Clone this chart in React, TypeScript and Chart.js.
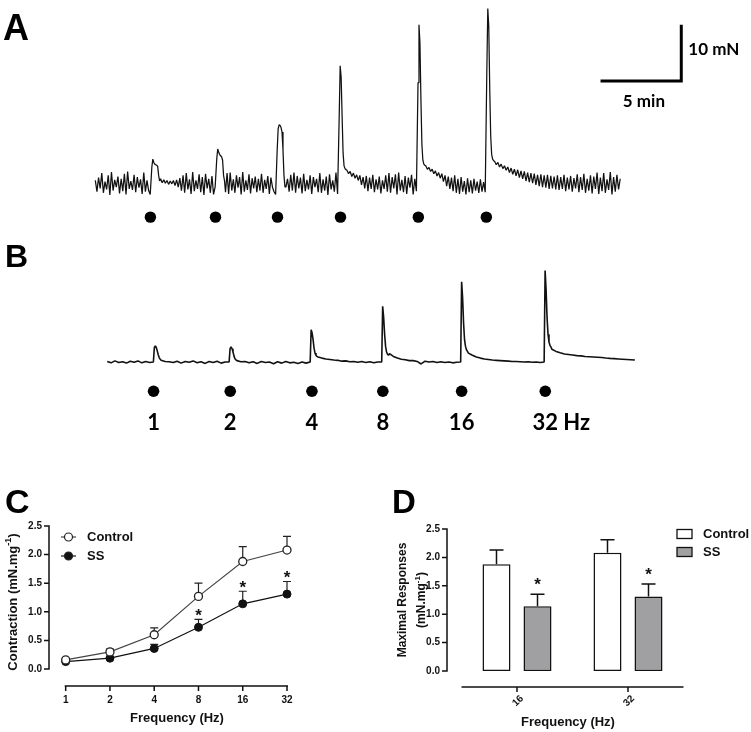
import React, { useEffect, useRef } from 'react';
import { Chart, registerables } from 'chart.js';

Chart.register(...registerables);

const FONT = '"Liberation Sans", Arial, sans-serif';
const TRACE_FONT = 'Lato, "Open Sans", sans-serif';

// ---------- Panel A: trace (time in min, force in mN) ----------
const aStimTimes = [3.5, 7.52, 11.26, 15.1, 19.98, 24.24];
const aDotTimes = [3.41, 7.44, 11.28, 15.18, 20.0, 24.21];
const aEnd = 32.5;
const aPulses: number[][] = [
  [3.0, 4.4, 3.8, 3.5, 3.4, 3.3, 3.1, 1.5, 0.5],
  [4.5, 6.2, 5.6, 5.2, 5.0, 4.8, 4.2, 1.5, 0.5],
  [6.0, 9.8, 10.5, 10.4, 10.0, 9.2, 6.0, 1.5, -0.5],
  [12.0, 21.0, 19.0, 12.0, 5.5, 3.2, 2.7, 2.5],
  [18.0, 28.3, 25.0, 15.0, 7.0, 4.2, 3.5, 3.3],
  [20.0, 31.2, 28.0, 17.0, 8.5, 5.2, 4.4, 4.1],
];
const aSeg0 = [0.6,-1.4,1.1,-0.8,1.9,-1.6,0.4,-1.0,1.5,-2.0,2.1,-1.2,0.7,-0.6,1.3,-1.7,0.9,-1.3,1.8,-1.9,2.2,-0.9,0.5,-1.1,1.6,-1.5,1.2,-0.7,0.8,-1.8,2.0,-1.4,0.6,-1.2,-1.9];
const aSeg1 = [0.9,0.2,0.7,0.1,0.6,-0.1,0.5,0.0,0.6,-0.3,0.7,-0.6,1.0,-1.2,1.5,-1.6,1.9,-1.0,0.8,-1.8,2.1,-1.3,0.6,-0.9,1.7,-1.5,1.2,-2.0,1.8,-0.8,0.9,-1.6,1.4,-1.9,-0.5];
const aSeg2 = [-1.5,1.9,-1.8,2.0,-1.2,0.8,-1.6,1.5,-0.7,1.2,-1.9,2.1,-1.4,0.6,-1.1,1.7,-1.7,1.0,-0.8,1.3,-1.5,0.9,-1.2,1.8,-1.6,0.7,-0.9,1.4,-1.8,1.1,-0.6,-1.4,-1.9];
const aSeg3 = [-0.6,0.9,-1.4,1.6,-1.2,2.0,-1.6,1.4,-0.8,1.1,-1.7,1.8,-1.3,0.7,-1.0,1.5,-1.8,1.2,-0.6,0.9,-1.5,1.9,-1.6,0.8,-1.2,1.3,-2.0,1.7,-1.0,0.6,-1.4,2.0,-1.8];
const aSeg4 = [2.4,1.8,2.2,1.3,1.9,1.0,1.6,0.6,1.5,-0.2,1.2,-0.8,1.4,-1.3,1.1,-0.9,1.6,-1.5,0.8,-1.0,1.3,-1.7,0.6,-0.9,1.5,-1.4,1.9,-1.6,1.2,-0.8,1.7,-1.9,2.0,-1.2,0.7,-1.5,1.4,-1.8,1.1,-0.7,1.6,-1.9,0.9,-1.3];
const aSeg5 = [3.2,2.6,2.9,2.2,2.6,1.8,2.3,1.4,2.0,1.0,1.8,0.4,1.5,-0.4,1.3,-0.9,1.1,-1.3,1.5,-1.6,0.9,-1.8,1.2,-1.4,0.5,-1.9,1.0,-1.5,0.6,-1.7,0.9,-1.2,0.4,-1.6,0.8,-1.4,0.3,-1.5];
const aSeg6 = [4.0,3.4,3.8,3.0,3.5,2.7,3.2,2.4,3.0,2.0,2.8,1.7,2.6,1.4,2.5,1.1,2.3,0.9,2.2,0.5,2.0,0.3,1.9,0.1,1.8,-0.2,1.6,-0.4,1.7,-0.6,1.5,-0.7,1.6,-0.9,1.4,-0.8,1.3,-1.0,1.5,-1.1,1.2,-0.9,1.6,-1.3,1.1,-1.0,1.4,-1.4,1.0,-0.8,1.7,-1.5,1.2,-1.1,1.8,-1.6,0.9,-1.2,1.5,-1.7,1.3,-0.9,2.0,-1.8,1.1,-1.3,1.9,-1.6,0.8,-1.1,2.1,-1.9,1.2,-1.4,1.6,-1.0,0.9];
const aSegments = [aSeg0, aSeg1, aSeg2, aSeg3, aSeg4, aSeg5, aSeg6];

// scale bar
const scaleBarMinutes = 5;
const scaleBarForce = 10;
const scaleBarTime = 36.28;
const scaleBarBase = 18.3;

// ---------- Panel B: trace ----------
const bStimTimes = [2.86, 7.55, 12.57, 17.0, 21.89, 27.06];
const bDotTimes = [2.87, 7.62, 12.68, 17.07, 21.95, 27.13];
const bLabels = ['1', '2', '4', '8', '16', '32'];
const bUnit = 'Hz';
const bEnd = 32.68;
const bPulses: number[][] = [
  [0.0, 2.6, 2.9, 2.6, 2.0, 1.3, 0.8, 0.5],
  [0.0, 2.4, 2.7, 2.4, 1.8, 1.1, 0.6, 0.4],
  [0.0, 5.8, 5.2, 4.0, 2.5, 1.6, 1.2, 1.0],
  [0.0, 10.0, 8.0, 5.0, 2.8, 1.8, 1.4, 1.2],
  [0.0, 14.4, 11.5, 7.0, 4.0, 2.8, 2.2, 1.9],
  [0.0, 16.4, 13.0, 8.0, 5.0, 3.6, 3.0, 2.7],
];
const bSeg0 = [0.1,-0.15,0.2,-0.1,0.05,-0.2,0.15,-0.05,0.2,-0.15,0.1,-0.1];
const bSeg1 = [0.3,0.1,0.05,-0.1,0.15,-0.2,0.1,-0.05,0.2,-0.15,0.05,-0.25,0.1,-0.1,0.15,-0.2,0.0];
const bSeg2 = [0.25,0.05,0.1,-0.15,0.05,-0.25,0.1,-0.1,0.0,-0.3,0.05,-0.2,0.1,-0.15,-0.05,-0.25,0.0,-0.2];
const bSeg3 = [0.9,0.7,0.55,0.45,0.35,0.3,0.15,0.2,0.05,0.1,-0.05,0.1,-0.1,0.05,-0.15,0.0];
const bSeg4 = [1.5,1.0,0.7,0.5,0.4,0.25,0.25,0.1,-0.35,0.15,0.0,0.1,-0.1,0.05,-0.1,0.0,-0.15,-0.05];
const bSeg5 = [1.6,1.2,0.9,0.7,0.55,0.45,0.35,0.3,0.25,0.2,0.15,0.1,0.1,0.05,0.0,0.05,-0.05,0.0,-0.1];
const bSeg6 = [2.3,1.9,1.65,1.45,1.35,1.25,1.15,1.1,1.0,0.95,0.9,0.85,0.8,0.72,0.65,0.6,0.55,0.5,0.45,0.4,0.35];
const bSegments = [bSeg0, bSeg1, bSeg2, bSeg3, bSeg4, bSeg5, bSeg6];

// ---------- Panel C ----------
const freqs = [1, 2, 4, 8, 16, 32];
const controlMean = [0.16, 0.30, 0.60, 1.27, 1.88, 2.08];
const controlSem = [0.02, 0.05, 0.12, 0.23, 0.26, 0.24];
const ssMean = [0.13, 0.19, 0.36, 0.73, 1.14, 1.31];
const ssSem = [0.02, 0.02, 0.07, 0.14, 0.22, 0.22];
const ssSignificant = [false, false, false, true, true, true];
const yTicks = [0, 0.5, 1.0, 1.5, 2.0, 2.5];

// ---------- Panel D ----------
const barFreqs = ['16', '32'];
const controlMax = [1.88, 2.08];
const controlMaxSem = [0.25, 0.23];
const ssMax = [1.14, 1.31];
const ssMaxSem = [0.21, 0.22];
const ssMaxSignificant = [true, true];

const PULSE_STEP = 0.06;

function buildTrace(stims: number[], pulses: number[][], segs: number[][], end: number) {
  const pts: { x: number; y: number }[] = [];
  segs.forEach((seg, k) => {
    const start = k === 0 ? 0 : stims[k - 1] + pulses[k - 1].length * PULSE_STEP;
    const last = k === segs.length - 1;
    const stop = k < stims.length ? stims[k] : end;
    const dt = (stop - start) / (last ? seg.length - 1 : seg.length);
    seg.forEach((v, j) => pts.push({ x: start + j * dt, y: v }));
    if (k < stims.length) pulses[k].forEach((v, m) => pts.push({ x: stims[k] + m * PULSE_STEP, y: v }));
  });
  return pts;
}

function drawTitle(ctx: CanvasRenderingContext2D, cx: number, cy: number, parts: { t: string; sup?: boolean }[], size: number, rotate: boolean) {
  ctx.save();
  const main = `bold ${size}px ${FONT}`;
  const sup = `bold ${Math.round(size * 0.68)}px ${FONT}`;
  let total = 0;
  parts.forEach((p) => { ctx.font = p.sup ? sup : main; total += ctx.measureText(p.t).width; });
  ctx.translate(cx, cy);
  if (rotate) ctx.rotate(-Math.PI / 2);
  ctx.textAlign = 'left';
  ctx.textBaseline = 'middle';
  ctx.fillStyle = '#111';
  let x = -total / 2;
  parts.forEach((p) => {
    ctx.font = p.sup ? sup : main;
    ctx.fillText(p.t, x, p.sup ? -size * 0.38 : 0);
    x += ctx.measureText(p.t).width;
  });
  ctx.restore();
}

const baseOpts = {
  responsive: false,
  animation: false as const,
  devicePixelRatio: 1,
  events: [] as any[],
  plugins: { legend: { display: false }, tooltip: { enabled: false } },
};

export default function App() {
  const aRef = useRef<HTMLCanvasElement>(null);
  const bRef = useRef<HTMLCanvasElement>(null);
  const cRef = useRef<HTMLCanvasElement>(null);
  const dRef = useRef<HTMLCanvasElement>(null);

  useEffect(() => {
    const charts: Chart[] = [];

    // ----- A -----
    const aPlugin = {
      id: 'aDecor',
      afterDraw(chart: any) {
        const { ctx } = chart;
        const x = chart.scales.x, y = chart.scales.y;
        ctx.save();
        ctx.fillStyle = '#000';
        ctx.font = `bold 36px ${FONT}`;
        ctx.textAlign = 'left';
        ctx.textBaseline = 'alphabetic';
        ctx.fillText('A', 3, 40);
        ctx.font = `bold 17px ${TRACE_FONT}`;
        ctx.textBaseline = 'middle';
        ctx.fillText(`${scaleBarForce} mN`, x.getPixelForValue(scaleBarTime) + 7, y.getPixelForValue(scaleBarBase + scaleBarForce / 2) - 3);
        ctx.textAlign = 'center';
        ctx.fillText(`${scaleBarMinutes} min`, x.getPixelForValue(scaleBarTime - scaleBarMinutes / 2) + 3, y.getPixelForValue(scaleBarBase) + 21);
        ctx.restore();
      },
    };
    charts.push(new Chart(aRef.current!, {
      type: 'line',
      data: {
        datasets: [
          { data: buildTrace(aStimTimes, aPulses, aSegments, aEnd), borderColor: '#111', borderWidth: 1.25, pointRadius: 0, tension: 0, borderJoinStyle: 'bevel' } as any,
          { data: aDotTimes.map((t) => ({ x: t, y: -5.93 })), showLine: false, pointRadius: 5.7, pointBackgroundColor: '#000', pointBorderWidth: 0 },
          { data: [
              { x: scaleBarTime - scaleBarMinutes, y: scaleBarBase },
              { x: scaleBarTime, y: scaleBarBase },
              { x: scaleBarTime, y: scaleBarBase + scaleBarForce },
            ], borderColor: '#000', borderWidth: 3, pointRadius: 0, borderJoinStyle: 'miter', borderCapStyle: 'butt' } as any,
        ],
      },
      options: {
        ...baseOpts,
        layout: { padding: 0 },
        scales: {
          x: { type: 'linear', min: -5.549, max: 40.244, display: false },
          y: { min: -8.983, max: 31.695, display: false },
        },
      } as any,
      plugins: [aPlugin],
    }));

    // ----- B -----
    const bPlugin = {
      id: 'bDecor',
      afterDraw(chart: any) {
        const { ctx } = chart;
        const x = chart.scales.x, y = chart.scales.y;
        ctx.save();
        ctx.fillStyle = '#000';
        ctx.font = `bold 32px ${FONT}`;
        ctx.textAlign = 'left';
        ctx.textBaseline = 'alphabetic';
        ctx.fillText('B', 5, 27);
        ctx.font = `bold 22px ${TRACE_FONT}`;
        ctx.textBaseline = 'middle';
        const ly = y.getPixelForValue(-10.85);
        bLabels.forEach((lab, i) => {
          const px = x.getPixelForValue(bDotTimes[i]);
          ctx.textAlign = 'center';
          ctx.fillText(lab, px, ly);
          if (i === bLabels.length - 1) {
            const w = ctx.measureText(lab).width;
            ctx.textAlign = 'left';
            ctx.fillText(' ' + bUnit, px + w / 2, ly);
          }
        });
        ctx.restore();
      },
    };
    charts.push(new Chart(bRef.current!, {
      type: 'line',
      data: {
        datasets: [
          { data: buildTrace(bStimTimes, bPulses, bSegments, bEnd), borderColor: '#111', borderWidth: 1.6, pointRadius: 0, tension: 0, borderJoinStyle: 'bevel' } as any,
          { data: bDotTimes.map((t) => ({ x: t, y: -5.25 })), showLine: false, pointRadius: 5.8, pointBackgroundColor: '#000', pointBorderWidth: 0 },
        ],
      },
      options: {
        ...baseOpts,
        layout: { padding: 0 },
        scales: {
          x: { type: 'linear', min: -6.28, max: 39.512, display: false },
          y: { min: -14.746, max: 20.847, display: false },
        },
      } as any,
      plugins: [bPlugin],
    }));

    // ----- C -----
    const cPlugin = {
      id: 'cDecor',
      beforeDatasetsDraw(chart: any) {
        const { ctx } = chart;
        const xs = chart.scales.x, ys = chart.scales.y;
        ctx.save();
        ctx.strokeStyle = '#222';
        ctx.lineWidth = 1.2;
        [[controlMean, controlSem], [ssMean, ssSem]].forEach(([m, s]) => {
          freqs.forEach((f, i) => {
            const px = xs.getPixelForValue(f);
            const y1 = ys.getPixelForValue(m[i]);
            const y2 = ys.getPixelForValue(m[i] + s[i]);
            ctx.beginPath();
            ctx.moveTo(px, y1); ctx.lineTo(px, y2);
            ctx.moveTo(px - 4, y2); ctx.lineTo(px + 4, y2);
            ctx.stroke();
          });
        });
        ctx.restore();
      },
      afterDraw(chart: any) {
        const { ctx, chartArea } = chart;
        const xs = chart.scales.x, ys = chart.scales.y;
        ctx.save();
        ctx.fillStyle = '#000';
        ctx.font = `bold 34px ${FONT}`;
        ctx.textAlign = 'left';
        ctx.textBaseline = 'alphabetic';
        ctx.fillText('C', 5, 33);
        ctx.strokeStyle = '#111';
        ctx.lineWidth = 1.5;
        const ax = chartArea.left;
        ctx.beginPath();
        ctx.moveTo(ax, ys.getPixelForValue(0) + 0.75);
        ctx.lineTo(ax, ys.getPixelForValue(2.5) - 0.75);
        yTicks.forEach((v) => { const py = ys.getPixelForValue(v); ctx.moveTo(ax - 5, py); ctx.lineTo(ax, py); });
        const ay = chartArea.bottom;
        ctx.moveTo(xs.getPixelForValue(freqs[0]) - 1, ay);
        ctx.lineTo(xs.getPixelForValue(freqs[freqs.length - 1]) + 1, ay);
        freqs.forEach((f) => { const px = xs.getPixelForValue(f); ctx.moveTo(px, ay); ctx.lineTo(px, ay + 5); });
        ctx.stroke();
        ctx.fillStyle = '#111';
        ctx.font = `bold 10px ${FONT}`;
        ctx.textAlign = 'right';
        ctx.textBaseline = 'middle';
        yTicks.forEach((v) => ctx.fillText(v.toFixed(1), ax - 7, ys.getPixelForValue(v)));
        ctx.textAlign = 'center';
        ctx.textBaseline = 'top';
        freqs.forEach((f) => ctx.fillText(String(f), xs.getPixelForValue(f), ay + 9));
        drawTitle(ctx, 177, 238, [{ t: 'Frequency (Hz)' }], 13, false);
        drawTitle(ctx, 13, 122, [{ t: 'Contraction (mN.mg' }, { t: '-1', sup: true }, { t: ')' }], 13, true);
        ctx.fillStyle = '#111';
        ctx.font = `bold 17px ${FONT}`;
        ctx.textAlign = 'center';
        ctx.textBaseline = 'alphabetic';
        freqs.forEach((f, i) => {
          if (!ssSignificant[i]) return;
          const cy = ys.getPixelForValue(ssMean[i] + ssSem[i]) - 8;
          ctx.fillText('*', xs.getPixelForValue(f), cy + 9.5);
        });
        const items = [
          { label: 'Control', fill: '#fff', line: '#444', y: 57 },
          { label: 'SS', fill: '#111', line: '#111', y: 76 },
        ];
        items.forEach((it) => {
          ctx.strokeStyle = it.line;
          ctx.lineWidth = 1.2;
          ctx.beginPath(); ctx.moveTo(61, it.y); ctx.lineTo(76, it.y); ctx.stroke();
          ctx.beginPath(); ctx.arc(68.5, it.y, 4, 0, Math.PI * 2);
          ctx.fillStyle = it.fill; ctx.fill();
          ctx.strokeStyle = '#222'; ctx.stroke();
          ctx.fillStyle = '#111';
          ctx.font = `bold 13px ${FONT}`;
          ctx.textAlign = 'left';
          ctx.textBaseline = 'middle';
          ctx.fillText(it.label, 87, it.y);
        });
        ctx.restore();
      },
    };
    charts.push(new Chart(cRef.current!, {
      type: 'line',
      data: {
        datasets: [
          { label: 'Control', data: freqs.map((f, i) => ({ x: f, y: controlMean[i] })), borderColor: '#444', borderWidth: 1.2, pointRadius: 4, pointBackgroundColor: '#fff', pointBorderColor: '#222', pointBorderWidth: 1.3, clip: false, tension: 0 } as any,
          { label: 'SS', data: freqs.map((f, i) => ({ x: f, y: ssMean[i] })), borderColor: '#111', borderWidth: 1.2, pointRadius: 4, pointBackgroundColor: '#111', pointBorderColor: '#111', pointBorderWidth: 1, clip: false, tension: 0 } as any,
        ],
      },
      options: {
        ...baseOpts,
        layout: { padding: { left: 49, right: 73, top: 46, bottom: 46 } },
        scales: {
          x: { type: 'logarithmic', min: 0.77, max: 32, display: false },
          y: { type: 'linear', min: -0.296, max: 2.5, display: false },
        },
      } as any,
      plugins: [cPlugin],
    }));

    // ----- D -----
    const dPlugin = {
      id: 'dDecor',
      afterDatasetsDraw(chart: any) {
        const { ctx } = chart;
        const ys = chart.scales.y;
        ctx.save();
        ctx.strokeStyle = '#111';
        ctx.lineWidth = 1.5;
        const series = [[controlMax, controlMaxSem], [ssMax, ssMaxSem]];
        series.forEach(([m, s], d) => {
          const meta = chart.getDatasetMeta(d);
          m.forEach((v, i) => {
            const px = meta.data[i].x;
            const y1 = ys.getPixelForValue(v);
            const y2 = ys.getPixelForValue(v + s[i]);
            ctx.beginPath();
            ctx.moveTo(px, y1); ctx.lineTo(px, y2);
            ctx.moveTo(px - 7, y2); ctx.lineTo(px + 7, y2);
            ctx.stroke();
          });
        });
        ctx.fillStyle = '#111';
        ctx.font = `bold 17px ${FONT}`;
        ctx.textAlign = 'center';
        ctx.textBaseline = 'alphabetic';
        const ssMeta = chart.getDatasetMeta(1);
        ssMax.forEach((v, i) => {
          if (!ssMaxSignificant[i]) return;
          const cy = ys.getPixelForValue(v + ssMaxSem[i]) - 14;
          ctx.fillText('*', ssMeta.data[i].x, cy + 9.5);
        });
        ctx.restore();
      },
      afterDraw(chart: any) {
        const { ctx, chartArea } = chart;
        const xs = chart.scales.x, ys = chart.scales.y;
        ctx.save();
        ctx.fillStyle = '#000';
        ctx.font = `bold 33px ${FONT}`;
        ctx.textAlign = 'left';
        ctx.textBaseline = 'alphabetic';
        ctx.fillText('D', 22, 33);
        ctx.strokeStyle = '#111';
        ctx.lineWidth = 1.5;
        const ax = chartArea.left - 14.5;
        ctx.beginPath();
        ctx.moveTo(ax, ys.getPixelForValue(0) + 0.75);
        ctx.lineTo(ax, ys.getPixelForValue(2.5) - 0.75);
        yTicks.forEach((v) => { const py = ys.getPixelForValue(v); ctx.moveTo(ax - 5, py); ctx.lineTo(ax, py); });
        const ay = chartArea.bottom;
        ctx.moveTo(chartArea.left, ay);
        ctx.lineTo(chartArea.right, ay);
        barFreqs.forEach((_, i) => { const px = xs.getPixelForValue(i); ctx.moveTo(px, ay); ctx.lineTo(px, ay + 5); });
        ctx.stroke();
        ctx.fillStyle = '#111';
        ctx.font = `bold 10px ${FONT}`;
        ctx.textAlign = 'right';
        ctx.textBaseline = 'middle';
        yTicks.forEach((v) => ctx.fillText(v.toFixed(1), ax - 7, ys.getPixelForValue(v)));
        barFreqs.forEach((lab, i) => {
          const px = xs.getPixelForValue(i);
          ctx.save();
          ctx.translate(px + 5, ay + 10);
          ctx.rotate(-Math.PI / 4);
          ctx.textAlign = 'right';
          ctx.textBaseline = 'middle';
          ctx.fillText(lab, 0, 0);
          ctx.restore();
        });
        drawTitle(ctx, 198, 242, [{ t: 'Frequency (Hz)' }], 13, false);
        drawTitle(ctx, 33, 120, [{ t: 'Maximal Responses' }], 12, true);
        drawTitle(ctx, 52, 120, [{ t: '(mN.mg' }, { t: '-1', sup: true }, { t: ')' }], 12, true);
        const ds = chart.data.datasets;
        ds.forEach((d: any, i: number) => {
          const cy = 54 + i * 18;
          ctx.fillStyle = d.backgroundColor;
          ctx.fillRect(307, cy - 4.5, 15, 9);
          ctx.strokeStyle = '#111';
          ctx.lineWidth = 1.3;
          ctx.strokeRect(307, cy - 4.5, 15, 9);
          ctx.fillStyle = '#111';
          ctx.font = `bold 13px ${FONT}`;
          ctx.textAlign = 'left';
          ctx.textBaseline = 'middle';
          ctx.fillText(d.label, 333, cy);
        });
        ctx.restore();
      },
    };
    charts.push(new Chart(dRef.current!, {
      type: 'bar',
      data: {
        labels: barFreqs,
        datasets: [
          { label: 'Control', data: controlMax, backgroundColor: '#ffffff', borderColor: '#111', borderWidth: 1.5, borderSkipped: false, categoryPercentage: 0.739, barPercentage: 0.683 } as any,
          { label: 'SS', data: ssMax, backgroundColor: '#a0a0a2', borderColor: '#111', borderWidth: 1.5, borderSkipped: false, categoryPercentage: 0.739, barPercentage: 0.683 } as any,
        ],
      },
      options: {
        ...baseOpts,
        layout: { padding: { left: 91.5, right: 67.5, top: 49, bottom: 45 } },
        scales: {
          x: { display: false },
          y: { min: -0.282, max: 2.5, display: false },
        },
      } as any,
      plugins: [dPlugin],
    }));

    return () => charts.forEach((c) => c.destroy());
  }, []);

  const abs = (l: number, t: number, w: number, h: number): React.CSSProperties => ({ position: 'absolute', left: l, top: t, width: w, height: h });

  return (
    <div style={{ position: 'absolute', left: 0, top: 0, width: 751, height: 732, background: '#fff', overflow: 'hidden' }}>
      <canvas ref={aRef} width={751} height={240} style={abs(0, 0, 751, 240)} />
      <canvas ref={bRef} width={751} height={210} style={abs(0, 240, 751, 210)} />
      <canvas ref={cRef} width={360} height={252} style={abs(0, 480, 360, 252)} />
      <canvas ref={dRef} width={381} height={252} style={abs(370, 480, 381, 252)} />
    </div>
  );
}
